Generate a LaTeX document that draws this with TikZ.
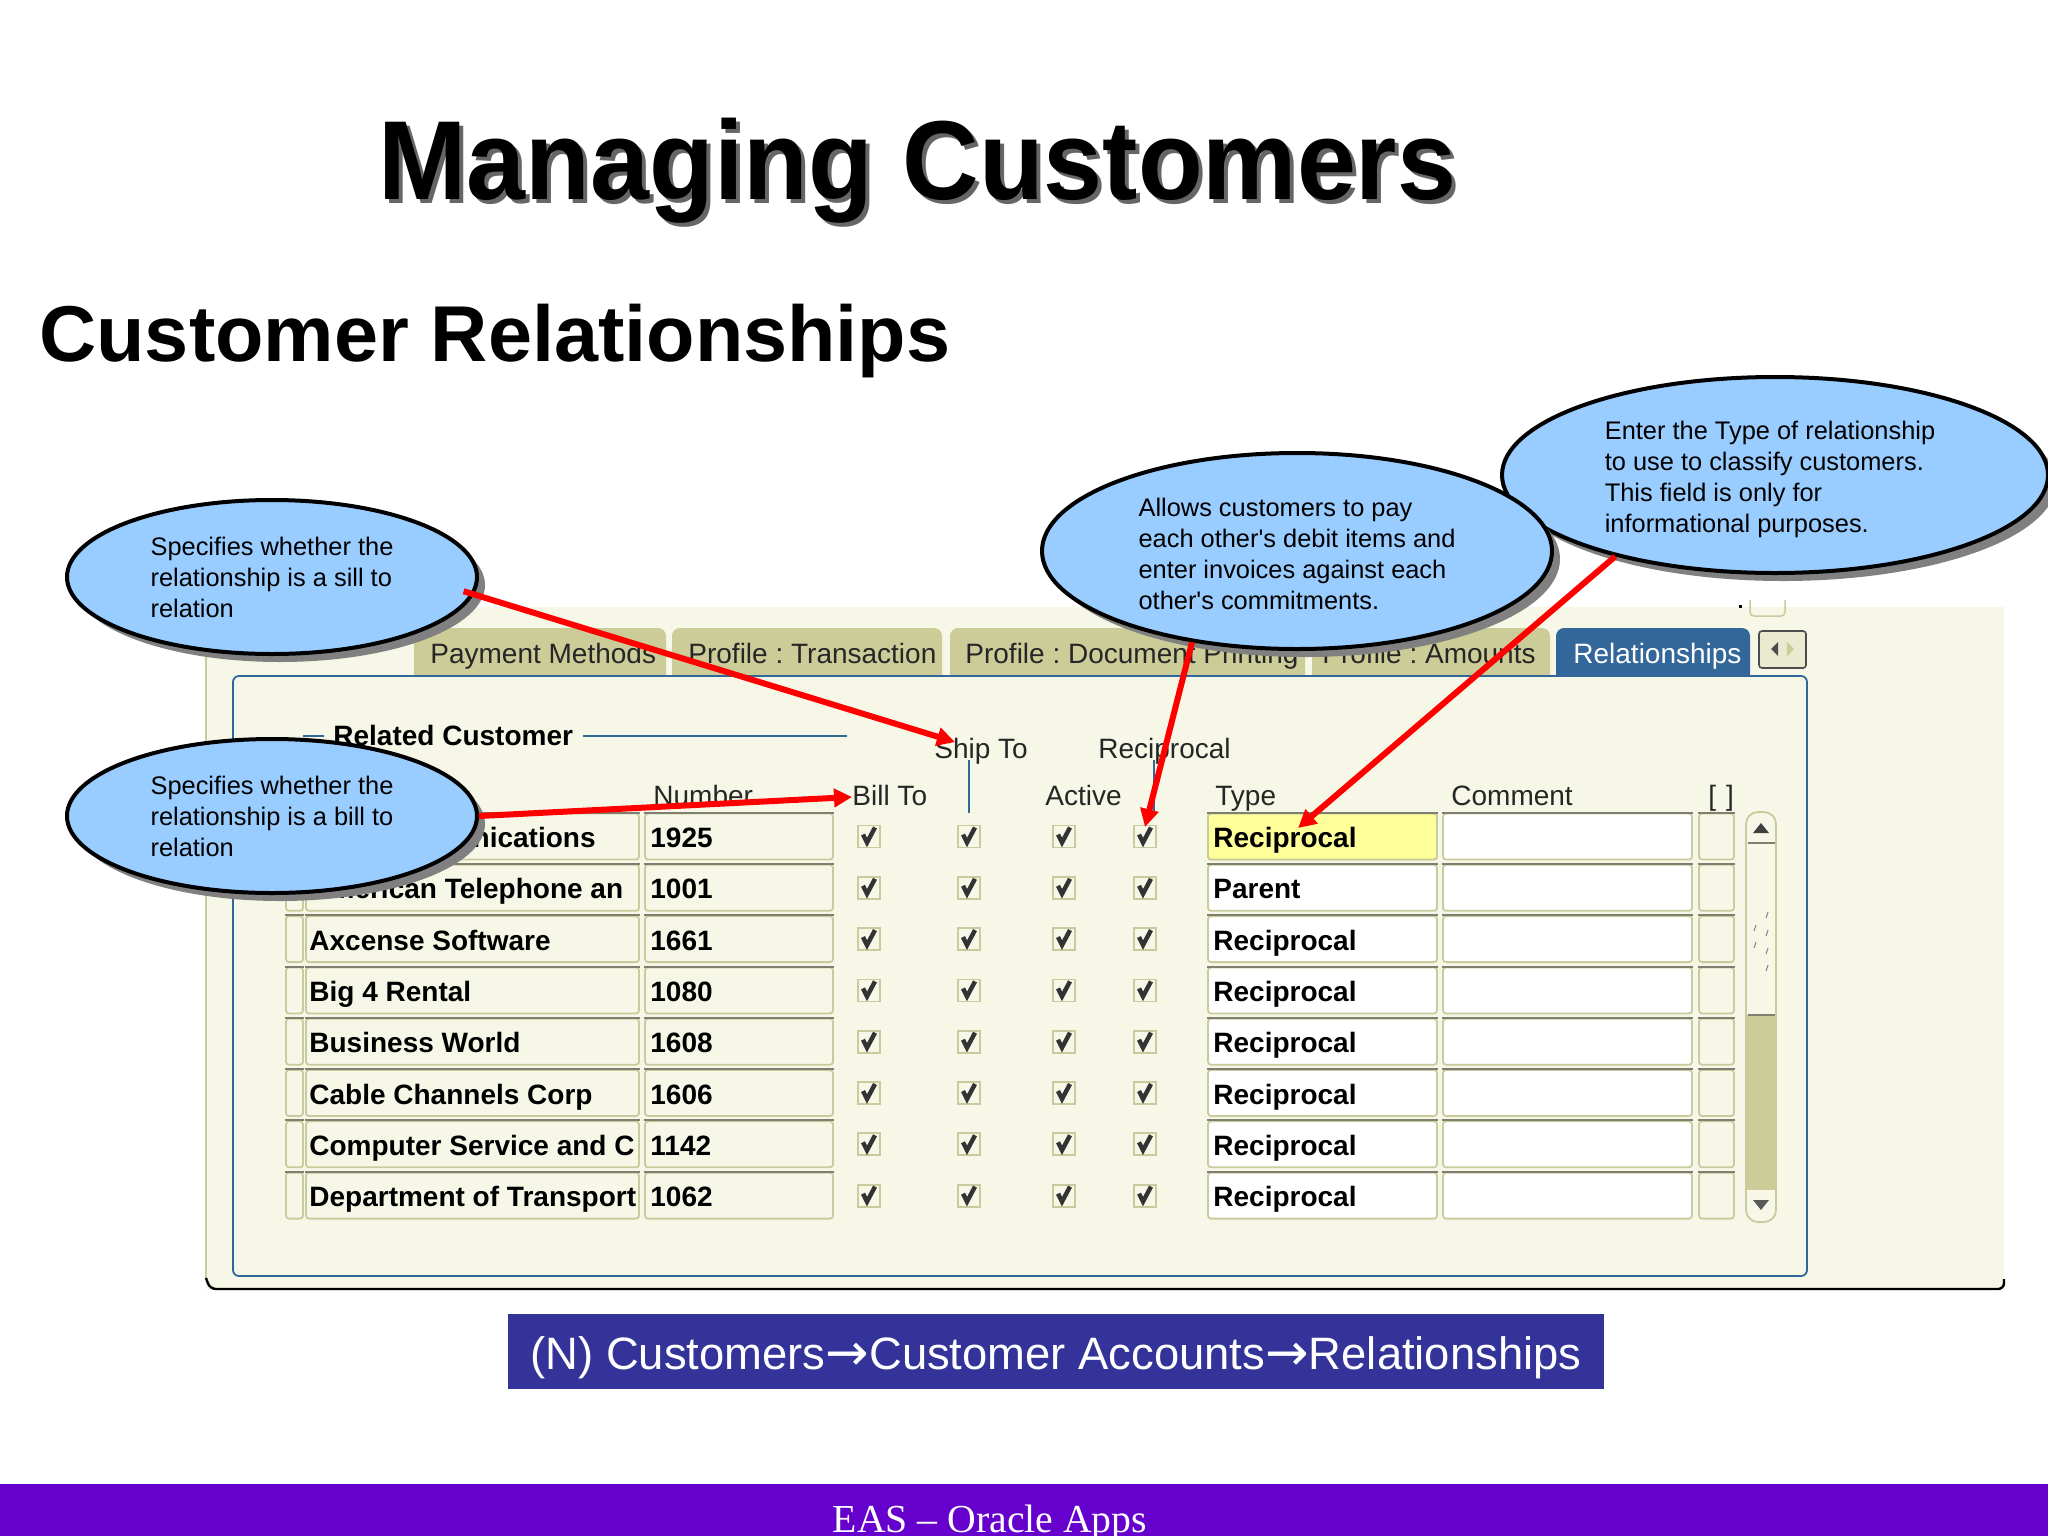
\documentclass[tikz,border=0pt]{standalone}
\usepackage{graphicx}
\usepackage{fontspec}
\setmainfont{Liberation Sans}
\newfontfamily\footfont{Liberation Serif}
\newfontfamily\arrowfont{DejaVu Sans}
\usetikzlibrary{arrows.meta,shapes.geometric,shadows}
\definecolor{formbg}{HTML}{F7F7E7}
\definecolor{tabfill}{HTML}{CCCC99}
\definecolor{formline}{HTML}{C8CB9B}
\definecolor{cellshade}{HTML}{7F7F70}
\definecolor{frameblue}{HTML}{336699}
\definecolor{noteblue}{HTML}{99CCFF}
\definecolor{navblue}{HTML}{333399}
\definecolor{footpurple}{HTML}{6600CC}
\definecolor{shadowgray}{HTML}{808080}
\definecolor{fieldyellow}{HTML}{FFFF99}
\newcommand{\navarrow}{{\arrowfont\fontsize{26}{26}\selectfont\raisebox{-.5pt}{→}}}
\begin{document}
\frenchspacing
\begin{tikzpicture}[x=.5pt,y=-.5pt,
	note/.style={draw=black,line width=2pt,fill=noteblue,shape=ellipse,inner sep=0pt,align=left,
		font=\fontsize{12.7}{15.5}\selectfont,
		drop shadow={shadow xshift=4pt,shadow yshift=-4pt,fill=shadowgray,opacity=1}},
	callout/.style={draw=red,line width=3pt,-{Triangle[length=9pt,width=9pt]}},
	label/.style={inner sep=0pt,anchor=base west,text=black!85,font=\fontsize{14}{16}\selectfont},
	value/.style={inner sep=0pt,anchor=base west,text=black,font=\fontsize{14}{16}\selectfont\bfseries},
	cell/.style={draw=formline,line width=.9pt,rounded corners=1.5pt,inner sep=0pt,minimum height=23pt},
	shade/.style={draw=cellshade,line width=1pt},
	checkbox/.style={draw=formline,line width=.9pt,fill=formbg,inner sep=0pt,minimum size=11pt}]
	\useasboundingbox (0,0) rectangle (2048,1536);

	% form panel
	\fill[formbg] (206,607) rectangle (2004,1289);
	\draw[formline,line width=.75pt] (206,607)--(206,1280);
	\draw[black,line width=1.2pt,rounded corners=3pt] (206,1278)--(210,1289)--(2004,1289)--(2004,1279);

	% tabs
	\foreach \xa/\xb/\col in {414/666/tabfill,672/942/tabfill,950/1305/tabfill,1312/1550/tabfill,1556/1750/frameblue}{
		\fill[\col,rounded corners=4pt] (\xa,676)--(\xa,628)--(\xb,628)--(\xb,676);
	}
	\node[label] (PM) at (430,663) {Payment Methods};
	\node[label] (PT) at (688,663) {Profile : Transaction};
	\node[label] (PD) at (965,663) {Profile : Document Printing};
	\node[label] (PA) at (1322,663) {Profile : Amounts};
	\node[label,text=white] (RL) at (1573,663) {Relationships};
	\draw[black!70,fill=formbg!70!tabfill,line width=.8pt,rounded corners=1.5pt] (1759,631) rectangle (1806,668);
	\fill[black!70] (1778,642)--(1771,649)--(1778,656)--cycle;
	\fill[tabfill] (1787,642)--(1794,649)--(1787,656)--cycle;
	\draw[formline,line width=.75pt,rounded corners=2pt] (1750,600)--(1750,616)--(1785,616)--(1785,600);
	\fill[black] (1739,605) rectangle (1742,608);

	% frame
	\draw[frameblue,line width=.9pt,fill=formbg,rounded corners=3pt] (233,676) rectangle (1807,1276);
	\draw[frameblue,line width=.9pt] (303,736)--(324,736);
	\draw[frameblue,line width=.9pt] (583,736)--(847,736);
	\node[value] (RC) at (333,745) {Related Customer};

	% headers
	\node[label] (HS) at (934,758) {Ship To};
	\node[label] (HR) at (1098,758) {Reciprocal};
	\draw[frameblue,line width=.9pt] (969,760)--(969,813);
	\draw[frameblue,line width=.9pt] (1154,760)--(1154,813);
	\node[label] (HN) at (653,805) {Number};
	\node[label] (HB) at (852,805) {Bill To};
	\node[label] (HA) at (1045,805) {Active};
	\node[label] (HT) at (1215,805) {Type};
	\node[label] (HC) at (1451,805) {Comment};
	\node[label] (HX) at (1708,805) {[\hspace{5pt}]};

	% rows
	\foreach \i/\nm/\num/\ty [evaluate=\i as \y using 836.5+51.3*\i] in {
		0//1925/Reciprocal,
		1/American Telephone an/1001/Parent,
		2/Axcense Software/1661/Reciprocal,
		3/Big 4 Rental/1080/Reciprocal,
		4/Business World/1608/Reciprocal,
		5/Cable Channels Corp/1606/Reciprocal,
		6/Computer Service and C/1142/Reciprocal,
		7/Department of Transport/1062/Reciprocal}{
		\foreach \cn/\cx/\cw/\cc in {S/294.5/8.5/formbg,N/472.5/166.5/formbg,U/739/94/formbg,T/1322.5/114.5/white,M/1567.5/124.5/white,L/1716.5/17.5/formbg}{
			\node[cell,fill=\cc,minimum width=\cw pt] (\cn\i) at (\cx,\y) {};
			\draw[shade] (\cn\i.north west)--(\cn\i.north east);
		}
		\foreach \cx [count=\k] in {869,969,1064,1145}{
			\node[checkbox] (B\i\k) at (\cx,\y) {};
			\draw[black!80,line width=2.2pt] ([xshift=-3pt,yshift=1pt]B\i\k.center)--([xshift=-1pt,yshift=-3pt]B\i\k.center)--([xshift=3pt,yshift=4.5pt]B\i\k.center);
		}
		\node[value] (TN\i) at (309,\y+11) {\nm};
		\node[value] (TU\i) at (650,\y+11) {\num};
	}
	\node[cell,fill=fieldyellow,minimum width=114.5pt] (TY) at (1322.5,836.5) {};
	\draw[shade] (TY.north west)--(TY.north east);
	\foreach \i/\ty [evaluate=\i as \y using 836.5+51.3*\i] in {0/Reciprocal,1/Parent,2/Reciprocal,3/Reciprocal,4/Reciprocal,5/Reciprocal,6/Reciprocal,7/Reciprocal}{
		\node[value] (TT\i) at (1213,\y+11) {\ty};
	}
	\node[value,anchor=base east] (TN) at (596,847.5) {Communications};

	% scrollbar
	\draw[formline,line width=.9pt,rounded corners=6pt,fill=formbg] (1746,812) rectangle (1776,1222);
	\fill[tabfill] (1746,1015) rectangle (1776,1190);
	\draw[cellshade,line width=1pt] (1748,843)--(1775,843);
	\draw[cellshade,line width=1pt] (1748,1015)--(1775,1015);
	\fill[black!75] (1761,823)--(1769,833)--(1753,833)--cycle;
	\fill[black!65] (1761,1210)--(1769,1200)--(1753,1200)--cycle;
	\foreach \tx/\ty in {1768/912,1756/925,1768/930,1756/942,1768/948,1768/965}{
		\draw[black!50,line width=.5pt] (\tx,\ty)--(\tx-2,\ty+6);
	}

	% notes
	\node[note,minimum width=273pt,minimum height=98pt] (ED) at (1775,475) {\rule{0pt}{13.2pt}Enter the Type of relationship\hspace*{5pt}\\to use to classify customers.\\This field is only for\\informational purposes.};
	\node[note,minimum width=255pt,minimum height=98pt] (EC) at (1297,551) {\rule{0pt}{12.5pt}Allows customers to pay\\each other\textquotesingle s debit items and\\enter invoices against each\\other\textquotesingle s commitments.};
	\node[note,minimum width=205pt,minimum height=77pt] (EA) at (272,577) {Specifies whether the\\relationship is a sill to\\relation};
	\node[note,minimum width=205pt,minimum height=77pt] (EB) at (272,816) {Specifies whether the\\relationship is a bill to\\relation};

	% callouts
	\coordinate (AS) at (955,742);
	\coordinate (AB) at (852,797);
	\coordinate (AR) at (1145,827);
	\coordinate (AT) at (1298,828);
	\draw[callout] ([xshift=-6pt]EA.356)--(AS);
	\draw[callout] (EB.east)--(AB);
	\draw[callout] (EC.221.5)--(AR);
	\draw[callout] (ED.207.5)--(AT);

	% titles
	\node[inner sep=0pt,anchor=base west,text=black!60,font=\fontsize{53}{60}\selectfont\bfseries] (TS) at (382,203) {\scalebox{1}[1.06]{Managing Customers}};
	\node[inner sep=0pt,anchor=base west,font=\fontsize{53}{60}\selectfont\bfseries] (TM) at (378,199) {\scalebox{1}[1.06]{Managing Customers}};
	\node[inner sep=0pt,anchor=base west,font=\fontsize{39.6}{44}\selectfont\bfseries] (CR) at (39,361) {Customer Relationships};

	% navigation and footer
	\node[fill=navblue,text=white,inner sep=0pt,minimum width=548pt,minimum height=37.5pt,font=\fontsize{22.7}{26}\selectfont] (NV) at (1056,1351.5) {\raisebox{-8.75pt}[0pt][0pt]{(N) Customers\navarrow Customer Accounts\navarrow Relationships}};
	\fill[footpurple] (0,1484) rectangle (2048,1536);
	\node[inner sep=0pt,anchor=base,text=white,font=\footfont\fontsize{19.85}{22}\selectfont] (FT) at (990,1532) {EAS – Oracle Apps};
\end{tikzpicture}
\end{document}
